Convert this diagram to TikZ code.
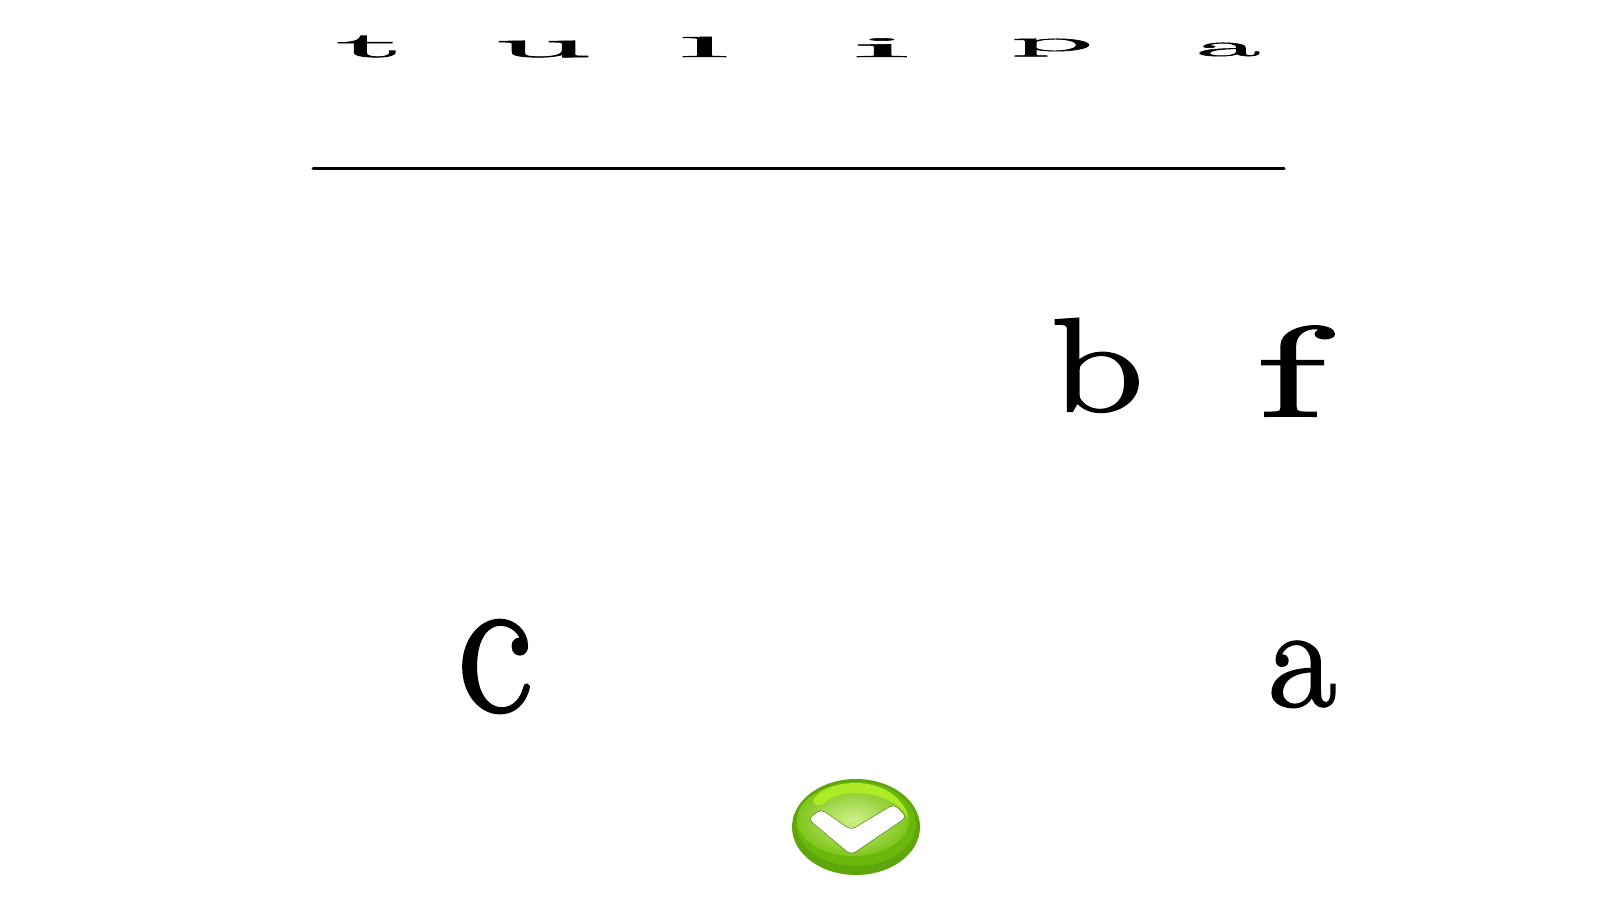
\documentclass[tikz,border=0pt]{standalone}
\usepackage{fontspec}
\setmainfont[FakeBold=1.7]{Latin Modern Roman}
\usepackage{tikz}
\definecolor{rimgreen}{HTML}{5FA60B}
\definecolor{bodygreen}{HTML}{69B80B}
\definecolor{glowgreen}{HTML}{CFF08A}
\definecolor{edgegreen}{HTML}{7FC61C}
\definecolor{shinegreen}{HTML}{AEEA25}
\newcommand{\stretched}[3]{\scalebox{#1}[#2]{\fontsize{100}{100}\selectfont #3}}
\tikzset{
	letter/.style={inner sep=0pt, outer sep=0pt, anchor=base, text=black},
	rule line/.style={line width=3pt, line cap=round, black}
}

\begin{document}
\begin{tikzpicture}[x=1pt,y=-1pt]
	\useasboundingbox (0,0) rectangle (1600,900);
	% squeezed word
	\foreach \name/\glyph/\px/\py/\sx/\sy in {
			t/t/370/57/1.85/.345, u/u/543/57/1.92/.37, l/l/704/57/2.15/.29,
			i/i/882/57/2.55/.29, p/p/1052/51/1.62/.28, a/a/1228/56/1.38/.30}
	\node [letter] (top\name) at (\px,\py) {\stretched{\sx}{\sy}{\glyph}};
	\coordinate (ruleleft) at (313,168);
	\coordinate (ruleright) at (1284,168);
	\draw [rule line] (ruleleft) -- (ruleright);
	% big letters
	\node [letter] (bigb) at (1097,411) {\stretched{1.82}{1.33}{b}};
	\node [letter] (bigf) at (1291,416) {\stretched{2.4}{1.28}{f}};
	\node [letter] (bigc) at (495,711) {\stretched{1.84}{2.05}{c}};
	\node [letter] (biga) at (1302,706) {\stretched{1.47}{1.46}{a}};
	% button
	\fill [rimgreen] (856,827) ellipse [x radius=64, y radius=48];
	\fill [bodygreen] (856,824) ellipse [x radius=60, y radius=42];
	\shade [inner color=glowgreen, outer color=edgegreen]
	(853,820) ellipse [x radius=56, y radius=36];
	\fill [shinegreen]
	(813,801) .. controls (818,790) and (835,783) .. (856,783)
	.. controls (885,783) and (905,800) .. (908,818)
	.. controls (900,803) and (880,793) .. (853,793)
	.. controls (838,793) and (830,798) .. (823,804)
	.. controls (819,806) and (814,805) .. (813,801);
	\draw [rimgreen!80!black, fill=white, line width=.5pt, rounded corners=5pt]
	(808,819) -- (821,809) -- (851,830) -- (894,804) -- (907,817)
	-- (851,855) -- cycle;
\end{tikzpicture}
\end{document}
